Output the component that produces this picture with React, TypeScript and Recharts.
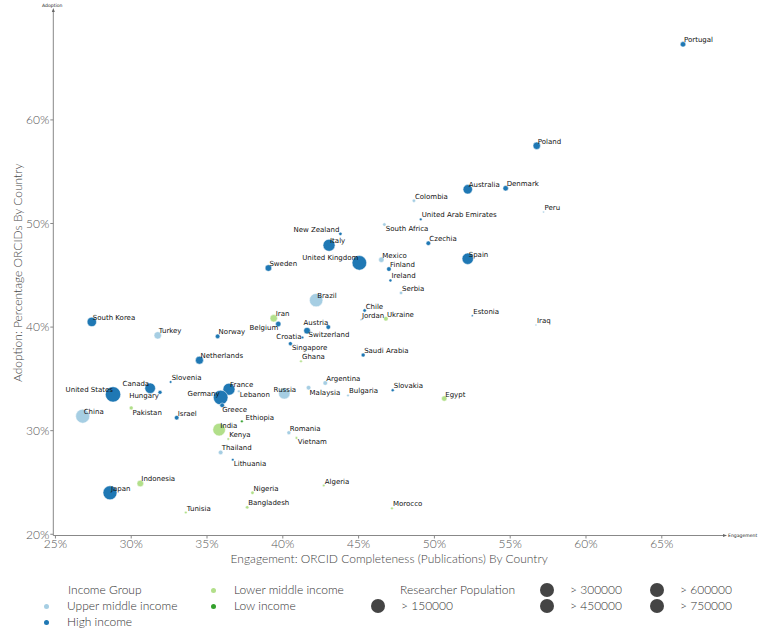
import { ScatterChart, Scatter, XAxis, YAxis, ZAxis, ReferenceDot } from 'recharts';
import type { CSSProperties } from 'react';

// values
const countries = [
  'Portugal', 'Poland', 'Australia', 'Denmark', 'Colombia', 'Peru', 'United Arab Emirates', 'South Africa',
  'Czechia', 'Spain', 'Mexico', 'Finland', 'Ireland', 'United Kingdom', 'Italy', 'New Zealand',
  'Sweden', 'Brazil', 'Serbia', 'Chile', 'Jordan', 'Ukraine', 'Estonia', 'Iraq',
  'Egypt', 'Iran', 'Belgium', 'Austria', 'Switzerland', 'Croatia', 'Singapore', 'Ghana',
  'Saudi Arabia', 'Argentina', 'Malaysia', 'Russia', 'Bulgaria', 'Slovakia', 'Norway', 'Netherlands',
  'South Korea', 'Turkey', 'Slovenia', 'Canada', 'Hungary', 'United States', 'China', 'Pakistan',
  'Israel', 'France', 'Germany', 'Greece', 'Lebanon', 'Ethiopia', 'India', 'Kenya',
  'Thailand', 'Lithuania', 'Romania', 'Vietnam', 'Indonesia', 'Japan', 'Nigeria', 'Bangladesh',
  'Tunisia', 'Algeria', 'Morocco',
];

// ORCID completeness (publications), %
const engagement = [
  66.4, 56.75, 52.2, 54.7, 48.65, 57.2, 49.1, 46.7,
  49.6, 52.2, 46.5, 47.0, 47.1, 45.05, 43.05, 43.8,
  39.05, 42.2, 47.8, 45.4, 45.15, 46.8, 52.5, 56.7,
  50.65, 39.4, 39.7, 43.0, 41.6, 41.3, 40.5, 41.2,
  45.3, 42.8, 41.7, 40.1, 44.3, 47.25, 35.7, 34.5,
  27.4, 31.75, 32.6, 31.25, 31.9, 28.8, 26.8, 30.0,
  33.0, 36.45, 35.9, 36.0, 37.1, 37.3, 35.8, 36.4,
  35.9, 36.7, 40.4, 40.9, 30.6, 28.6, 38.0, 37.65,
  33.6, 42.7, 47.2,
];

// percentage of researchers with ORCIDs, %
const adoption = [
  67.3, 57.5, 53.3, 53.4, 52.2, 51.1, 50.4, 49.9,
  48.1, 46.6, 46.5, 45.6, 44.5, 46.2, 47.9, 49.0,
  45.7, 42.6, 43.3, 41.6, 40.7, 40.8, 41.1, 40.2,
  33.1, 40.85, 40.3, 40.0, 39.65, 39.0, 38.4, 36.7,
  37.3, 34.6, 34.15, 33.6, 33.4, 33.9, 39.1, 36.8,
  40.5, 39.2, 34.7, 34.1, 33.7, 33.5, 31.4, 32.2,
  31.25, 34.0, 33.2, 32.45, 33.8, 30.9, 30.1, 29.2,
  27.9, 27.2, 29.8, 29.3, 24.9, 24.0, 24.0, 22.6,
  22.1, 24.7, 22.5,
];

// researcher population, thousands
const researchers = [
  91, 171, 276, 91, 36, 12, 21, 36,
  66, 406, 91, 66, 28, 666, 450, 36,
  136, 561, 36, 36, 12, 66, 12, 12,
  91, 171, 91, 66, 136, 21, 50, 21,
  50, 66, 66, 406, 21, 28, 66, 200,
  276, 171, 21, 351, 50, 741, 612, 50,
  66, 450, 666, 66, 21, 21, 496, 21,
  66, 21, 50, 21, 136, 612, 36, 36,
  21, 21, 21,
];

// 0 upper middle, 1 high, 2 lower middle, 3 low
const incomeIndex = [
  1, 1, 1, 1, 0, 0, 1, 0,
  1, 1, 0, 1, 1, 1, 1, 1,
  1, 0, 0, 1, 0, 2, 1, 0,
  2, 2, 1, 1, 1, 1, 1, 2,
  1, 0, 0, 0, 0, 1, 1, 1,
  1, 0, 1, 1, 1, 1, 0, 2,
  1, 1, 1, 1, 0, 3, 2, 2,
  0, 1, 0, 2, 2, 1, 2, 2,
  2, 2, 2,
];

const incomeGroups = ['Upper middle income', 'High income', 'Lower middle income', 'Low income'];
const incomeColors = ['#a6cee3', '#1f78b4', '#b2df8a', '#33a02c'];
const populationBins = ['> 150000', '> 300000', '> 450000', '> 600000', '> 750000'];

const xTicks = [25, 30, 35, 40, 45, 50, 55, 60, 65];
const yTicks = [20, 30, 40, 50, 60];

const X_MIN = 24.86;
const X_MAX = 69.17;
const Y_MIN = 19.88;
const Y_MAX = 70.61;

const rows = countries.map((name, i) => ({
  name,
  x: engagement[i],
  y: adoption[i],
  z: researchers[i],
  group: incomeIndex[i],
}));

// label placement tweaks: [dx, dy, anchor], default sits up-right of the point
const labelNudge: Record<string, [number, number, 'start' | 'end']> = {
  'South Africa': [1.5, 6, 'start'],
  'New Zealand': [-1, -2, 'end'],
  'United Kingdom': [-1, -2.5, 'end'],
  Iran: [2, -2, 'start'],
  Belgium: [0, 6, 'end'],
  Austria: [0, -2.5, 'end'],
  Switzerland: [1.5, 6.5, 'start'],
  Croatia: [-1, 2, 'end'],
  Singapore: [1.5, 6.2, 'start'],
  Malaysia: [1, 7, 'start'],
  Russia: [-10.7, -1.5, 'start'],
  Vietnam: [1.3, 6.2, 'start'],
  Canada: [-1, -2, 'end'],
  'United States': [0, -2, 'end'],
  Hungary: [-1, 6, 'end'],
  Pakistan: [1.3, 6.8, 'start'],
  Germany: [-1, -2, 'end'],
  Greece: [0, 6.5, 'start'],
  Lebanon: [1, 5.5, 'start'],
  Ethiopia: [3.7, -1.5, 'start'],
  Lithuania: [1, 6.5, 'start'],
};

const thinFont = 'Lato, "Open Sans", sans-serif';
const tickStyle = { fontSize: 12, fill: '#555', fontFamily: thinFont, fontWeight: 300 };
const pct = (v: number) => `${v}%`;

const PointLabel = (props: any) => {
  const { cx, cy, payload } = props;
  const [dx, dy, anchor] = labelNudge[payload.name] ?? [1, -2, 'start'];
  return (
    <text x={cx + dx} y={cy + dy} textAnchor={anchor} fontSize={7} fontFamily="DejaVu Sans" fill="#111">
      {payload.name}
    </text>
  );
};

const XTitle = (props: any) => {
  const vb = props.viewBox;
  return (
    <text x={vb.x + vb.width / 2} y={563} textAnchor="middle" fontSize={12} fontFamily={thinFont} fontWeight={300} fill="#444">
      Engagement: ORCID Completeness (Publications) By Country
    </text>
  );
};

const YTitle = (props: any) => {
  const vb = props.viewBox;
  const cy = vb.y + vb.height / 2;
  return (
    <text x={17} y={cy} transform={`rotate(-90 17 ${cy})`} textAnchor="middle" dominantBaseline="central"
      fontSize={12} fontFamily={thinFont} fontWeight={300} fill="#444">
      Adoption: Percentage ORCIDs By Country
    </text>
  );
};

const ArrowRight = (props: any) => {
  const { cx, cy } = props;
  return (
    <g>
      <polygon points={`${cx + 2},${cy} ${cx - 2},${cy - 1.5} ${cx - 2},${cy + 1.5}`} fill="#666" />
      <text x={cx + 3} y={cy + 1.6} fontSize={4.6} fontFamily="DejaVu Sans" fill="#222">Engagement</text>
    </g>
  );
};

const ArrowUp = (props: any) => {
  const { cx, cy } = props;
  return (
    <g>
      <polygon points={`${cx},${cy - 2} ${cx - 1.5},${cy + 2} ${cx + 1.5},${cy + 2}`} fill="#666" />
      <text x={cx - 1} y={cy - 3.5} textAnchor="middle" fontSize={4.6} fontFamily="DejaVu Sans" fill="#222">Adoption</text>
    </g>
  );
};

const legendText: CSSProperties = {
  position: 'absolute',
  fontFamily: thinFont,
  fontWeight: 300,
  fontSize: 12,
  color: '#333',
  lineHeight: '14px',
  whiteSpace: 'nowrap',
  transform: 'translateY(-50%)',
};

const dot = (x: number, y: number, r: number, color: string): CSSProperties => ({
  position: 'absolute',
  left: x - r,
  top: y - r,
  width: r * 2,
  height: r * 2,
  borderRadius: '50%',
  background: color,
});

const popLegend: [number, number][] = [[378, 606], [547, 590], [547, 606], [657, 590], [657, 606]];
const incomeLegend: [number, number][] = [[46, 606], [46, 622], [213, 590], [213, 606]];

export default function App() {
  return (
    <div style={{ position: 'relative', width: 766, height: 632, background: '#fff' }}>
      <style>{'body{margin:0}'}</style>
      <ScatterChart width={766} height={632} margin={{ top: 10, right: 41, bottom: 66.5, left: 0.3 }}>
        <XAxis
          type="number"
          dataKey="x"
          domain={[X_MIN, X_MAX]}
          allowDataOverflow
          ticks={xTicks}
          tickFormatter={pct}
          tick={tickStyle}
          tickSize={3}
          tickMargin={1}
          axisLine={{ stroke: '#888' }}
          tickLine={{ stroke: '#888' }}
          height={30}
          label={<XTitle />}
        />
        <YAxis
          type="number"
          dataKey="y"
          domain={[Y_MIN, Y_MAX]}
          allowDataOverflow
          ticks={yTicks}
          tickFormatter={pct}
          tick={tickStyle}
          tickSize={3}
          tickMargin={1}
          axisLine={{ stroke: '#888' }}
          tickLine={{ stroke: '#888' }}
          width={53}
          label={<YTitle />}
        />
        <ZAxis type="number" dataKey="z" domain={[0, 800]} range={[0, 201]} />
        {incomeGroups.map((g, gi) => (
          <Scatter
            key={g}
            name={g}
            data={rows.filter((r) => r.group === gi)}
            fill={incomeColors[gi]}
            stroke="#fff"
            strokeWidth={0.5}
            isAnimationActive={false}
          />
        ))}
        <Scatter data={rows} shape={PointLabel} isAnimationActive={false} />
        <ReferenceDot x={X_MAX} y={Y_MIN} r={0} ifOverflow="visible" shape={ArrowRight} />
        <ReferenceDot x={X_MIN} y={Y_MAX} r={0} ifOverflow="visible" shape={ArrowUp} />
      </ScatterChart>

      <div style={{ ...legendText, left: 68, top: 590 }}>Income Group</div>
      {incomeGroups.map((g, i) => (
        <div key={g}>
          <div style={dot(incomeLegend[i][0], incomeLegend[i][1], 2.5, incomeColors[i])} />
          <div style={{ ...legendText, left: incomeLegend[i][0] + 21, top: incomeLegend[i][1] }}>{g}</div>
        </div>
      ))}
      <div style={{ ...legendText, left: 400, top: 590 }}>Researcher Population</div>
      {populationBins.map((b, i) => (
        <div key={b}>
          <div style={dot(popLegend[i][0], popLegend[i][1], 7, '#444')} />
          <div style={{ ...legendText, left: popLegend[i][0] + 23, top: popLegend[i][1] }}>{b}</div>
        </div>
      ))}
    </div>
  );
}
